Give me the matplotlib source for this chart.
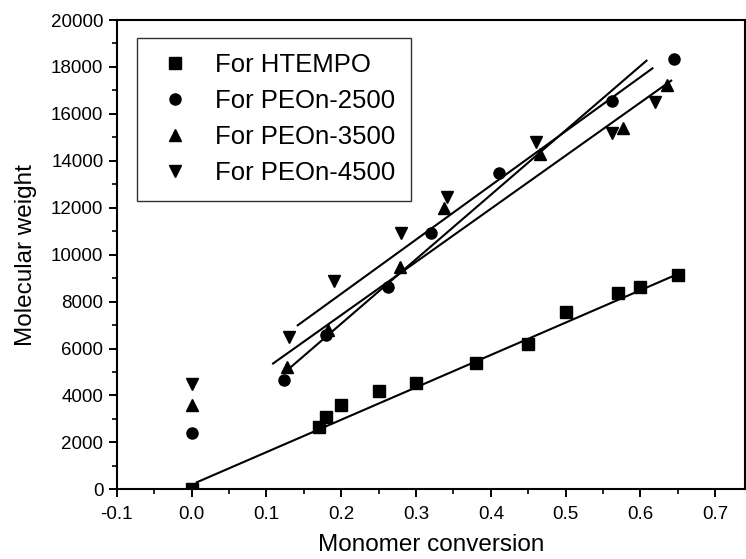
import numpy as np
import matplotlib
matplotlib.use('Agg')
import matplotlib.pyplot as plt
from matplotlib.ticker import MultipleLocator

plt.rcParams['font.family'] = ['Liberation Sans', 'DejaVu Sans']

# data
x_htempo = [0.0, 0.17, 0.18, 0.20, 0.25, 0.30, 0.38, 0.45, 0.50, 0.57, 0.60, 0.65]
y_htempo = [0, 2640, 3090, 3590, 4170, 4550, 5370, 6180, 7570, 8350, 8620, 9130]

x_peo2500 = [0.0, 0.123, 0.18, 0.262, 0.32, 0.411, 0.562, 0.645]
y_peo2500 = [2410, 4650, 6570, 8620, 10940, 13470, 16530, 18340]

x_peo3500 = [0.0, 0.127, 0.182, 0.278, 0.337, 0.466, 0.576, 0.636]
y_peo3500 = [3590, 5220, 6780, 9490, 12000, 14270, 15400, 17250]

x_peo4500 = [0.0, 0.130, 0.19, 0.280, 0.341, 0.461, 0.562, 0.620]
y_peo4500 = [4470, 6490, 8860, 10940, 12450, 14790, 15180, 16490]

# linear fits as drawn in the figure: slope, intercept, x range
fit_slope = [13808, 27478, 22660, 23101]
fit_intercept = [201, 1560, 2891, 3710]
fit_x0 = [0.007, 0.131, 0.109, 0.142]
fit_x1 = [0.656, 0.608, 0.641, 0.616]

labels = ['For HTEMPO', 'For PEOn-2500', 'For PEOn-3500', 'For PEOn-4500']
markers = ['s', 'o', '^', 'v']
xs = [x_htempo, x_peo2500, x_peo3500, x_peo4500]
ys = [y_htempo, y_peo2500, y_peo3500, y_peo4500]

fig = plt.figure(figsize=(7.46, 5.59), dpi=100)
ax = fig.add_axes([0.1564, 0.1247, 0.8426, 0.8395])

for i in range(4):
    ax.plot(xs[i], ys[i], linestyle='none', marker=markers[i], color='black',
            markersize=8, label=labels[i])
    fx = np.array([fit_x0[i], fit_x1[i]])
    ax.plot(fx, fit_slope[i] * fx + fit_intercept[i], color='black', lw=1.5)

ax.set_xlim(-0.1, 0.74)
ax.set_ylim(0, 20000)
ax.xaxis.set_minor_locator(MultipleLocator(0.05))
ax.yaxis.set_major_locator(MultipleLocator(2000))
ax.yaxis.set_minor_locator(MultipleLocator(1000))
ax.set_xticks(np.arange(-0.1, 0.75, 0.1))
ax.set_xticklabels(['-0.1', '0.0', '0.1', '0.2', '0.3', '0.4', '0.5', '0.6', '0.7'])
ax.tick_params(which='major', direction='out', length=6, width=1.4, labelsize=13.5)
ax.tick_params(axis='x', which='major', pad=6)
ax.tick_params(which='minor', direction='out', length=3.5, width=1.2)
for s in ax.spines.values():
    s.set_linewidth(1.5)

ax.set_xlabel('Monomer conversion', fontsize=17.5, labelpad=8)
ax.set_ylabel('Molecular weight', fontsize=17.5, labelpad=10)

leg = ax.legend(loc='upper left', bbox_to_anchor=(0.032, 0.962), borderaxespad=0,
                fontsize=18.5, frameon=True, fancybox=False, edgecolor='black',
                handlelength=1.76, handletextpad=0.68, labelspacing=0.47,
                borderpad=0.6, numpoints=1)
leg.get_frame().set_linewidth(1.0)

fig.savefig('out.png', dpi=100)
